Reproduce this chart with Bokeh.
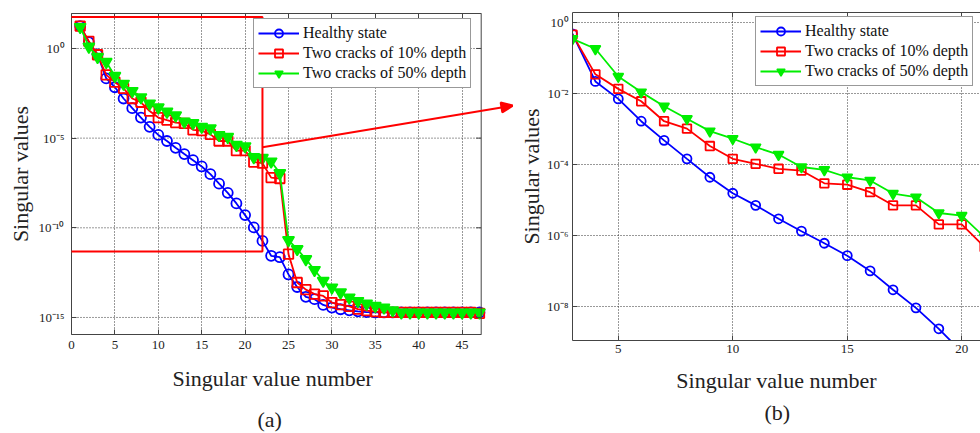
import math
from bokeh.plotting import figure
from bokeh.layouts import row
from bokeh.models import (FixedTicker, LinearAxis, CustomJSTickFormatter,
                          PolyAnnotation, Title)
from bokeh.embed import file_html
from bokeh.resources import INLINE

# ---------------- data ----------------
sv_number = list(range(1, 48))

healthy = [1.78e1, 2.24e0, 4.68e-1, 2.14e-2, 6.9e-3, 1.62e-3, 4.68e-4, 1.41e-4, 4.27e-5, 1.51e-5,
           6.9e-6, 2.88e-6, 1.29e-6, 5.9e-7, 2.63e-7, 9.8e-8, 2.88e-8, 8.9e-9, 2.29e-9, 5.1e-10,
           1.05e-10, 1.86e-11, 2.75e-12, 2.29e-12, 2.5e-13, 5.0e-14, 1.41e-14, 1.05e-14, 5.0e-15, 3.55e-15,
           2.88e-15, 2.51e-15, 2.19e-15, 2.0e-15, 1.9e-15, 1.9e-15, 1.9e-15, 1.9e-15, 1.9e-15, 1.9e-15,
           1.9e-15, 1.9e-15, 1.9e-15, 1.9e-15, 1.9e-15, 1.9e-15, 1.9e-15]

cracks_10 = [1.78e1, 2.51e0, 4.47e-1, 3.39e-2, 1.32e-2, 5.9e-3, 1.62e-3, 1.0e-3, 3.24e-4, 1.41e-4,
             1.02e-4, 7.4e-5, 6.6e-5, 2.88e-5, 2.63e-5, 1.62e-5, 6.9e-6, 6.9e-6, 2.0e-6, 2.0e-6,
             4.6e-7, 4.0e-7, 6.3e-8, 5.6e-8, 3.4e-12, 8.9e-14, 3.55e-14, 2.0e-14, 1.58e-14, 6.8e-15,
             5.2e-15, 4.2e-15, 2.9e-15, 2.4e-15, 2.1e-15, 1.9e-15, 1.9e-15, 1.9e-15, 1.9e-15, 1.9e-15,
             1.9e-15, 1.9e-15, 1.9e-15, 1.9e-15, 1.9e-15, 1.9e-15, 1.7e-15]

cracks_50 = [1.58e1, 1.26e0, 3.39e-1, 1.78e-1, 2.95e-2, 1.07e-2, 4.27e-3, 1.9e-3, 8.5e-4, 5.2e-4,
             3.0e-4, 1.86e-4, 8.3e-5, 6.9e-5, 4.27e-5, 3.47e-5, 1.48e-5, 1.17e-5, 4.2e-6, 3.55e-6,
             8.7e-7, 7.9e-7, 5.0e-7, 1.12e-7, 2.04e-11, 6.5e-12, 1.78e-12, 4.4e-13, 1.1e-13, 4.7e-14,
             2.5e-14, 1.29e-14, 8.3e-15, 5.9e-15, 4.4e-15, 3.55e-15, 2.5e-15, 1.9e-15, 1.9e-15, 1.9e-15,
             1.9e-15, 1.9e-15, 1.9e-15, 1.9e-15, 1.9e-15, 1.9e-15, 1.9e-15]

series_labels = ["Healthy state", "Two cracks of 10% depth", "Two cracks of 50% depth"]

xticks_a = [0, 5, 10, 15, 20, 25, 30, 35, 40, 45]
yticks_a = [1e-15, 1e-10, 1e-5, 1e0]
xticks_b = [5, 10, 15, 20]
yticks_b = [1e-8, 1e-6, 1e-4, 1e-2, 1e0]

# axes limits of panel (a)
XMAX_A = 47.2
YLIM_A = (10 ** -15.95, 10 ** 1.95)
# zoom rectangle in panel (a): x from -0.58 to 22, log10(y) from -11.32 to 1.75
zoom_x = [-0.58, 22.0]
zoom_logy = [-11.32, 1.75]
# connecting arrow in panel (a) coordinates (x, log10 y): start, tip
arrow_pts = [(22.0, -5.51), (50.9, -3.18)]

FONT = "Liberation Serif"
AX = "#444444"
RED = "#ff0000"
PX_X_A, PX_DEC_A = 8.68, 17.93     # pixels per x unit / per decade in panel (a)

sup_js = """
const e = Math.round(Math.log10(tick));
const m = {"0":"\u2070","1":"\u00b9","2":"\u00b2","3":"\u00b3","4":"\u2074","5":"\u2075",
           "6":"\u2076","7":"\u2077","8":"\u2078","9":"\u2079","-":"\u207b"};
let s = "";
for (const c of String(e)) { s += m[c]; }
return "10" + s;
"""


def style_axis(ax, hide_labels=False):
    ax.axis_line_color = AX
    ax.major_tick_line_color = AX
    ax.major_tick_in = 5
    ax.major_tick_out = 0
    ax.minor_tick_line_color = None
    ax.major_label_text_font = FONT
    ax.major_label_text_font_size = "13px"
    ax.major_label_text_color = "#222222"
    ax.axis_label_text_font = FONT
    ax.axis_label_text_font_size = "22px"
    ax.axis_label_text_font_style = "normal"
    ax.axis_label_text_color = "#222222"
    if hide_labels:
        ax.major_label_text_font_size = "1px"
        ax.major_label_text_color = None
        ax.major_label_standoff = 0


def build(x_range, y_range, xt, yt, width, height, mb, marker_size, xbounds=None,
          xlabel=None, xl_standoffs=(6, 14), yl_standoffs=(7, 3)):
    p = figure(width=width, height=height, x_range=x_range, y_range=y_range,
               y_axis_type="log", output_backend="svg", toolbar_location=None,
               min_border_left=mb[0], min_border_right=mb[1], min_border_top=mb[2],
               min_border_bottom=mb[3])
    p.frame_align = False
    p.outline_line_color = None
    p.background_fill_color = "white"
    p.border_fill_color = "white"
    bottom = p.xaxis[0]
    left = p.yaxis[0]
    bottom.ticker = FixedTicker(ticks=xt)
    left.ticker = FixedTicker(ticks=yt)
    left.formatter = CustomJSTickFormatter(code=sup_js)
    left.axis_label = "Singular values"
    if xlabel is not None:
        bottom.axis_label = xlabel
    style_axis(bottom)
    style_axis(left)
    bottom.major_label_standoff, bottom.axis_label_standoff = xl_standoffs
    left.major_label_standoff, left.axis_label_standoff = yl_standoffs
    top = LinearAxis(ticker=FixedTicker(ticks=xt))
    style_axis(top, hide_labels=True)
    p.add_layout(top, "above")
    if xbounds is not None:
        bottom.bounds = xbounds
        top.bounds = xbounds
    p.xgrid[0].ticker = FixedTicker(ticks=xt)
    p.ygrid[0].ticker = FixedTicker(ticks=yt)
    for g in (p.xgrid[0], p.ygrid[0]):
        g.grid_line_color = "#333333"
        g.grid_line_dash = "1 2"
        g.grid_line_width = 1

    specs = [(healthy, "#0000ff", "circle", 1.0), (cracks_10, RED, "square", 0.95),
             (cracks_50, "#00ee00", "inverted_triangle", 1.15)]
    for (vals, col, mk, sf), lab in zip(specs, series_labels):
        p.line(sv_number, vals, line_color=col, line_width=1.8, legend_label=lab)
        if mk == "inverted_triangle":
            p.scatter(sv_number, vals, marker=mk, size=marker_size * sf, line_color=col,
                      fill_color=col, line_width=1.5, legend_label=lab)
        else:
            p.scatter(sv_number, vals, marker=mk, size=marker_size * sf, line_color=col,
                      fill_color=None, line_width=1.8, legend_label=lab)

    lg = p.legend[0]
    lg.label_text_font = FONT
    lg.label_text_font_size = "16px"
    lg.label_text_color = "#111111"
    lg.glyph_width = 41
    lg.glyph_height = 20
    lg.label_height = 20
    lg.label_standoff = 4
    lg.padding = 4
    lg.spacing = -1
    lg.margin = 0
    lg.border_line_color = "#333333"
    lg.border_line_width = 1
    lg.background_fill_alpha = 1
    return p


def red_poly(xs, logys, fill=False):
    return PolyAnnotation(xs=list(xs), ys=[10 ** v for v in logys],
                          line_color=RED, line_alpha=1, line_width=2,
                          fill_color=RED if fill else None, fill_alpha=1 if fill else 0)


def below_text(text, offset, standoff):
    return Title(text=text, align="left", offset=offset, standoff=standoff, text_font=FONT,
                 text_font_size="22px", text_font_style="normal", text_color="#222222")


# ---------------- panel (a) ----------------
# the frame of (a) is widened to the right so the connecting arrow is not clipped;
# the visible axes box stops at XMAX_A
SPLIT = 513
xend_a = (SPLIT - 71) / PX_X_A
pa = build((0, xend_a), YLIM_A, xticks_a, yticks_a,
           SPLIT, 433, (71, 0, 13, 99), 10, xbounds=(0, XMAX_A),
           xl_standoffs=(6, 0), yl_standoffs=(7, 3))
pa.legend[0].location = (182, 246)
pa.ygrid[0].visible = False
# horizontal grid lines limited to the axes box
pa.segment(x0=[0] * len(yticks_a), x1=[XMAX_A] * len(yticks_a), y0=yticks_a, y1=yticks_a,
           line_color="#333333", line_dash="1 2", line_width=1, level="underlay")
# right side of the axes box with inward ticks
pa.segment(x0=[XMAX_A], x1=[XMAX_A], y0=[YLIM_A[0]], y1=[YLIM_A[1]], line_color=AX, line_width=1)
pa.segment(x0=[XMAX_A - 5 / PX_X_A] * len(yticks_a), x1=[XMAX_A] * len(yticks_a),
           y0=yticks_a, y1=yticks_a, line_color=AX, line_width=1)

pa.add_layout(red_poly([zoom_x[0], zoom_x[1], zoom_x[1], zoom_x[0]],
                       [zoom_logy[0], zoom_logy[0], zoom_logy[1], zoom_logy[1]]))
(x0, l0), (x1, l1) = arrow_pts
dxp, dyp = (x1 - x0) * PX_X_A, (l1 - l0) * PX_DEC_A
L = math.hypot(dxp, dyp)
ux, uy = dxp / L, dyp / L
head_len, head_half = 12.0, 5.0
bx, by = -ux * head_len, -uy * head_len
c1 = (bx - uy * head_half, by + ux * head_half)
c2 = (bx + uy * head_half, by - ux * head_half)
pa.add_layout(red_poly([x0, x1 + bx / PX_X_A], [l0, l1 + by / PX_DEC_A]))
pa.add_layout(red_poly([x1, x1 + c1[0] / PX_X_A, x1 + c2[0] / PX_X_A],
                       [l1, l1 + c1[1] / PX_DEC_A, l1 + c2[1] / PX_DEC_A], fill=True))
# x-axis title centred under the axes box, then the caption
pa.add_layout(below_text("Singular value number", 101, 25), "below")
pa.add_layout(below_text("(a)", 186, 2), "below")

# ---------------- panel (b) ----------------
pb = build((3, 20.82), (10 ** -8.97, 10 ** 0.273), xticks_b, yticks_b,
           980 - SPLIT, 433, (572 - SPLIT, 0, 12, 93), 9,
           xlabel="Singular value number", xl_standoffs=(4, 12), yl_standoffs=(4, 0))
pb.legend[0].location = (183, 254)
pb.add_layout(below_text("(b)", 192, 4), "below")

layout = row(pa, pb)
with open("out.html", "w", encoding="utf-8") as f:
    f.write(file_html(layout, INLINE))
